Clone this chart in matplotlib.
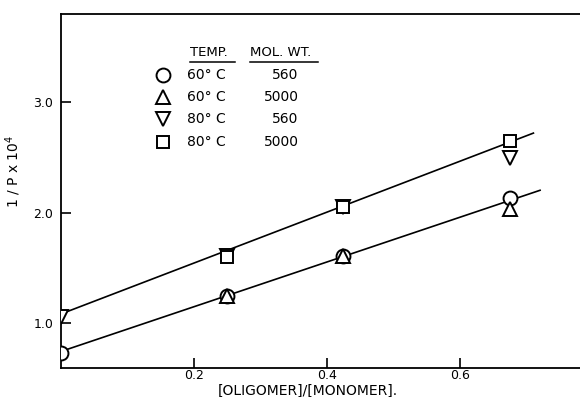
import numpy as np
import matplotlib
matplotlib.use("Agg")
import matplotlib.pyplot as plt

# data
x_conc = [0.0, 0.25, 0.424, 0.675]
y_60_560 = [0.73, 1.24, 1.61, 2.13]          # circles
x_5000 = [0.25, 0.424, 0.675]
y_60_5000 = [1.24, 1.61, 2.03]               # triangles
y_80_560 = [1.05, 1.61, 2.05, 2.49]          # inverted triangles
y_80_5000 = [1.60, 2.05, 2.65]               # squares

# fitted lines: (intercept, slope, x end)
fit_upper = (1.08, 2.31, 0.71)
fit_lower = (0.74, 2.03, 0.72)

legend_temp = ["60° C", "60° C", "80° C", "80° C"]
legend_mw = ["560", "5000", "560", "5000"]
legend_marker = ["o", "^", "v", "s"]

xticks = [0.2, 0.4, 0.6]
yticks = [1.0, 2.0, 3.0]

plt.rcParams['font.family'] = ['DejaVu Sans']

fig = plt.figure(figsize=(5.8, 3.97), dpi=100)
ax = fig.add_axes([61/580, 1 - 368/397, 519/580, 354/397])

mk = dict(mfc='white', mec='black', mew=1.4, ls='none', ms=10, zorder=3)

for b, m, xe in (fit_upper, fit_lower):
    xs = np.array([0.0, xe])
    ax.plot(xs, b + m * xs, color='black', lw=1.2, zorder=2)

ax.plot(x_conc, y_60_560, marker='o', **mk)
ax.plot(x_5000, y_60_5000, marker='^', **mk)
ax.plot(x_conc, y_80_560, marker='v', **mk)
ax.plot(x_5000, y_80_5000, marker='s', **dict(mk, ms=9))

ax.set_xlim(0, 0.78)
ax.set_ylim(0.59, 3.80)
ax.set_xticks(xticks)
ax.set_xticklabels([f"{v:.1f}" for v in xticks])
ax.set_yticks(yticks)
ax.set_yticklabels([f"{v:.1f}" for v in yticks])
ax.tick_params(axis='x', direction='in', length=7, width=1.2, pad=1.0, labelsize=9)
ax.tick_params(axis='y', direction='in', length=7, width=1.2, pad=5.5, labelsize=9)

ax.spines['right'].set_visible(False)
for s in ('left', 'top', 'bottom'):
    ax.spines[s].set_linewidth(1.3)

ax.set_ylabel("1 / P x 10$^4$", fontsize=10)
ax.yaxis.set_label_coords(-0.073, 0.556)
ax.set_xlabel("[OLIGOMER]/[MONOMER].", fontsize=10)
ax.xaxis.set_label_coords(0.476, -0.064)
ax.xaxis.label.set_va('center')

# hand drawn legend table
tr = ax.transAxes
ax.text(0.249, 0.890, "TEMP.", transform=tr, fontsize=9.5, va='center', ha='left')
ax.text(0.364, 0.890, "MOL. WT.", transform=tr, fontsize=9.5, va='center', ha='left')
ax.plot([0.249, 0.335], [0.864, 0.864], transform=tr, color='black', lw=1.1)
ax.plot([0.364, 0.495], [0.864, 0.864], transform=tr, color='black', lw=1.1)
rows_y = [0.828, 0.766, 0.703, 0.638]
for yy, t, mw, m in zip(rows_y, legend_temp, legend_mw, legend_marker):
    ax.plot([0.197], [yy], marker=m, transform=tr, clip_on=False,
            **dict(mk, ms=10 if m != 's' else 9))
    ax.text(0.243, yy, t, transform=tr, fontsize=10, va='center', ha='left')
    ax.text(0.458, yy, mw, transform=tr, fontsize=10, va='center', ha='right')

fig.savefig("out.png", dpi=100)
